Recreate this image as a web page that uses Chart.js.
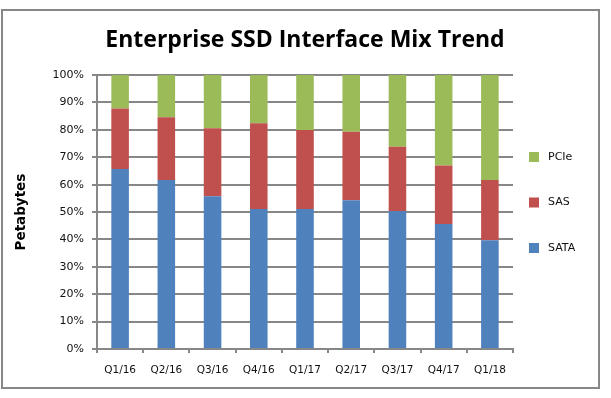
<!DOCTYPE html>
<html>
<head>
<meta charset="utf-8">
<script src="https://cdn.jsdelivr.net/npm/chart.js@4.4.1/dist/chart.umd.min.js"></script>
<style>
  html, body { margin: 0; padding: 0; background: #fff; }
  #wrap { width: 611px; height: 398px; }
</style>
</head>
<body>
<div id="wrap"><canvas id="chart" width="611" height="398"></canvas></div>
<script>
// Quarter labels along the x axis
const quarters = ['Q1/16', 'Q2/16', 'Q3/16', 'Q4/16', 'Q1/17', 'Q2/17', 'Q3/17', 'Q4/17', 'Q1/18'];

// Share of petabytes per interface (%)
const sataShare = [65.7, 61.7, 55.8, 51.1, 51.1, 54.3, 50.4, 45.6, 39.7];
const sasShare  = [22.1, 22.9, 24.8, 31.3, 28.9, 25.0, 23.4, 21.4, 22.0];
const pcieShare = [12.2, 15.4, 19.4, 17.6, 20.0, 20.7, 26.2, 33.0, 38.3];

const AXIS_GRAY = '#878787';
const TEXT = '#111';

// Chart frame + Excel style legend on the right (squares spaced apart)
const framePlugin = {
  id: 'frame',
  beforeDraw(chart) {
    const ctx = chart.ctx;
    ctx.save();
    ctx.fillStyle = '#fff';
    ctx.fillRect(0, 0, chart.width, chart.height);
    ctx.strokeStyle = AXIS_GRAY;
    ctx.lineWidth = 2;
    ctx.strokeRect(2, 10, 597, 378);
    ctx.restore();
  },
  afterDraw(chart) {
    const ctx = chart.ctx;
    const sets = chart.data.datasets.slice().reverse();
    ctx.save();
    ctx.font = '11px "DejaVu Sans"';
    ctx.textBaseline = 'middle';
    sets.forEach((ds, i) => {
      const y = 157 + i * 45.5;
      ctx.fillStyle = ds.backgroundColor;
      ctx.fillRect(529, y - 5, 10, 10);
      ctx.fillStyle = TEXT;
      ctx.fillText(ds.label, 548, y);
    });
    ctx.restore();
  }
};

new Chart(document.getElementById('chart').getContext('2d'), {
  type: 'bar',
  data: {
    labels: quarters,
    datasets: [
      { label: 'SATA', data: sataShare, backgroundColor: '#4F81BD' },
      { label: 'SAS',  data: sasShare,  backgroundColor: '#C0504D' },
      { label: 'PCIe', data: pcieShare, backgroundColor: '#9BBB59' },
    ],
  },
  options: {
    responsive: false,
    animation: false,
    layout: { padding: { left: 2, right: 98, top: 10, bottom: 10 } },
    datasets: { bar: { barPercentage: 0.38, categoryPercentage: 1 } },
    plugins: {
      legend: { display: false },
      tooltip: { enabled: false },
      title: {
        display: true,
        fullSize: false,
        text: 'Enterprise SSD Interface Mix Trend',
        color: '#000',
        font: { family: 'Open Sans', size: 23, weight: 'bold', lineHeight: 1.2 },
        padding: { top: 17, bottom: 20.5 },
      },
    },
    scales: {
      x: {
        stacked: true,
        afterFit: s => { s.height = 39; },
        grid: { display: true, drawOnChartArea: false, offset: true, tickLength: 4, color: AXIS_GRAY, lineWidth: 2 },
        border: { display: true, color: AXIS_GRAY, width: 2 },
        ticks: { color: TEXT, padding: 11, maxRotation: 0, autoSkip: false, font: { family: 'DejaVu Sans', size: 10.5 } },
      },
      y: {
        stacked: true,
        min: 0,
        max: 100,
        afterFit: s => { s.width = 95; },
        grid: { color: AXIS_GRAY, lineWidth: 2, tickLength: 5 },
        border: { display: true, color: AXIS_GRAY, width: 2 },
        ticks: { stepSize: 10, color: TEXT, padding: 8, font: { family: 'DejaVu Sans', size: 11 }, callback: v => v + '%' },
        title: {
          display: true,
          text: 'Petabytes',
          color: '#000',
          font: { family: 'DejaVu Sans', size: 13.5, weight: 'bold' },
          padding: { top: 11, bottom: 0 },
        },
      },
    },
  },
  plugins: [framePlugin],
});
</script>
</body>
</html>
